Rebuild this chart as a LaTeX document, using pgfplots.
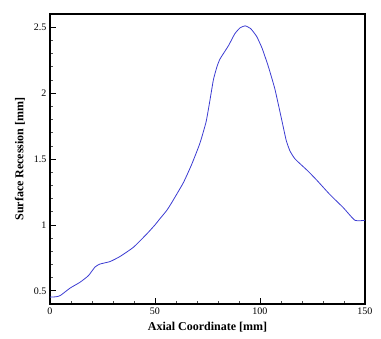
\documentclass[border=0pt]{standalone}
\usepackage{fontspec}
\setmainfont{Liberation Serif}
\usepackage{pgfplots}
\pgfplotsset{compat=1.18}
\definecolor{curveblue}{RGB}{60,60,210}

\begin{document}
\begin{tikzpicture}
\begin{axis}[
  scale only axis,
  width=315pt,
  height=290pt,
  xmin=0, xmax=150,
  ymin=0.4, ymax=2.6,
  xtick={0,50,100,150},
  ytick={0.5,1,1.5,2,2.5},
  minor x tick num=4,
  minor y tick num=4,
  tick align=inside,
  xtick pos=bottom,
  ytick pos=left,
  major tick length=6pt,
  minor tick length=3pt,
  axis line style={line width=1.3pt},
  every tick/.style={black,line width=0.8pt},
  minor tick style={line width=0.5pt,black!70},
  tick label style={font=\fontsize{10}{12}\selectfont},
  /pgf/number format/assume math mode=true,
  xlabel={\textbf{Axial Coordinate [mm]}},
  ylabel={\textbf{Surface Recession [mm]}},
  label style={font=\fontsize{12}{14}\selectfont},
  xlabel style={yshift=-1pt},
  ylabel style={yshift=2pt},
]
\addplot[curveblue, line width=0.8pt, smooth, tension=0.3] coordinates {
(0,0.452) (3,0.455) (5,0.465) (9.5,0.52) (14.3,0.565) (18.3,0.615)
(21.4,0.68) (23.8,0.703) (28.6,0.722) (33.3,0.76) (39.7,0.83) (46,0.93)
(50,1.0) (52,1.04) (55.6,1.11) (58,1.17) (63.5,1.32) (67.5,1.46)
(71.4,1.62) (74.3,1.78) (76,1.93) (77.8,2.1) (79.5,2.2) (81,2.26)
(85,2.36) (88,2.45) (90.5,2.495) (92.9,2.51) (95.5,2.49) (98.4,2.43)
(101,2.34) (104,2.2) (107.1,2.03) (110.3,1.80) (112.5,1.64) (114.3,1.56)
(116.7,1.50) (121.4,1.43) (123,1.406) (127,1.34) (133.3,1.23)
(139.7,1.13) (145.2,1.035) (150,1.035)
};
\end{axis}
\path[use as bounding box] ([xshift=-50pt,yshift=-35pt]current axis.south west) rectangle ([xshift=16pt,yshift=14pt]current axis.north east);
\end{tikzpicture}
\end{document}
